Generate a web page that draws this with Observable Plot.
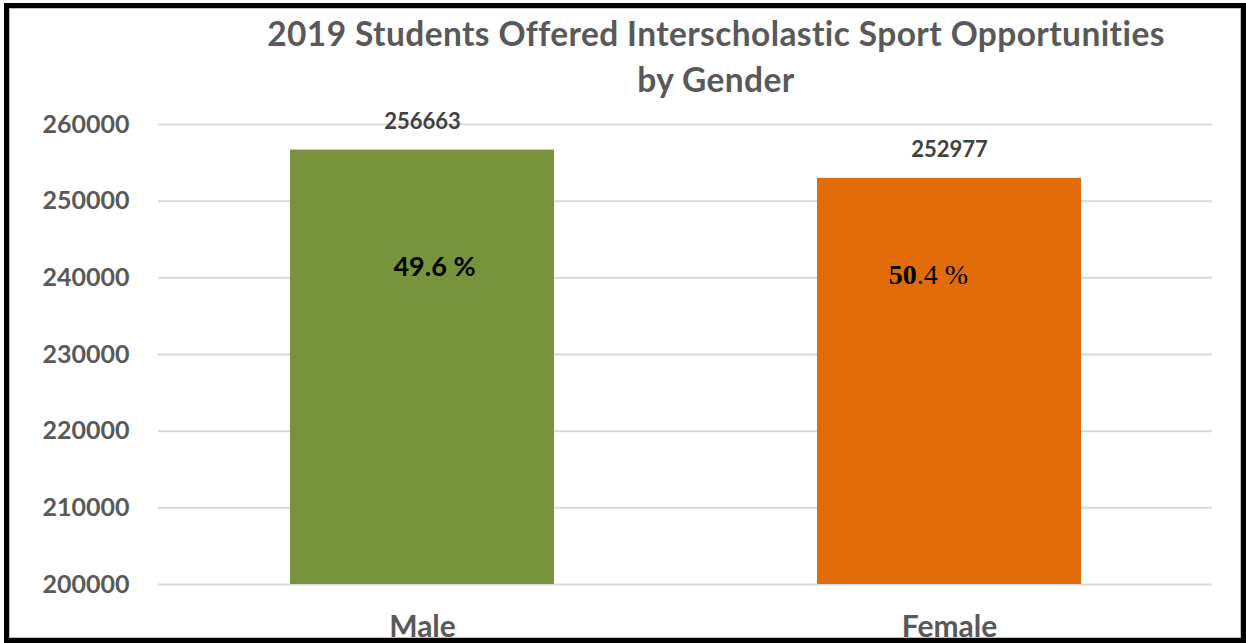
<!DOCTYPE html>
<html>
<head>
<meta charset="utf-8">
<script src="https://cdn.jsdelivr.net/npm/d3@7"></script>
<script src="https://cdn.jsdelivr.net/npm/@observablehq/plot@0.6"></script>
<style>
  html, body { margin: 0; padding: 0; background: #fff; }
  #frame {
    position: absolute; left: 4px; top: 3px;
    width: 1232px; height: 630px;
    border: 5px solid #000;
    box-shadow: inset 0 0 0 1px #bfbfbf;
    background: #fff;
  }
  #title {
    box-sizing: border-box;
    height: 100px;
    padding: 2px 0 0 182px;
    text-align: center;
    font-family: Lato, sans-serif;
    font-weight: bold;
    font-size: 33.5px;
    letter-spacing: 0.4px;
    line-height: 46px;
    color: #595959;
  }
  #chart svg { display: block; }
</style>
</head>
<body>
<div id="frame">
  <div id="title">2019 Students Offered Interscholastic Sport Opportunities<br>by Gender</div>
  <div id="chart"></div>
</div>
<script>
const categories = ["Male", "Female"];
const values = [256663, 252977];
const shares = ["49.6 %", "50.4 %"];
const yTicks = [200000, 210000, 220000, 230000, 240000, 250000, 260000];

const barColors = ["#77933c", "#e36c0a"];

const data = categories.map((c, i) => ({category: c, value: values[i], share: shares[i]}));
const yMin = yTicks[0];

const chart = Plot.plot({
  width: 1232,
  height: 530,
  marginTop: 16,
  marginBottom: 54,
  marginLeft: 149,
  marginRight: 29,
  style: {fontFamily: "Lato, sans-serif", color: "#595959", background: "transparent", overflow: "visible"},
  x: {domain: categories, paddingInner: 0.5, paddingOuter: 0.25, label: null},
  y: {domain: [yTicks[0], yTicks[yTicks.length - 1]], label: null},
  color: {domain: categories, range: barColors},
  marks: [
    Plot.gridY(yTicks, {stroke: "#d9d9d9", strokeOpacity: 1, strokeWidth: 2}),
    Plot.axisY(yTicks, {tickSize: 0, tickPadding: 29, tickFormat: d => String(d),
      fontSize: 25, fontWeight: "bold", fill: "#595959", label: null}),
    Plot.axisX({tickSize: 0, tickPadding: 31, fontSize: 30, fontWeight: "bold", fill: "#595959", label: null}),
    Plot.barY(data, {x: "category", y1: () => yMin, y2: "value", fill: "category"}),
    Plot.text(data, {x: "category", y: "value", text: d => String(d.value), dy: -28,
      fontSize: 22, fontWeight: "bold", fill: "#404040", fontFamily: "Lato, sans-serif"}),
    Plot.text(data.filter(d => d.category === "Male"), {x: "category", text: "share", frameAnchor: "top",
      lineAnchor: "middle", dy: 143, dx: 12, fontSize: 27, fontWeight: "bold", fill: "#000", fontFamily: "Lato, sans-serif"}),
    Plot.text(data.filter(d => d.category === "Female"), {x: "category", text: "share", frameAnchor: "top",
      lineAnchor: "middle", dy: 151, dx: -21, fontSize: 28, fill: "#000", fontFamily: "'Liberation Serif', 'Times New Roman', serif",
      className: "female-share"})
  ]
});

document.getElementById("chart").appendChild(chart);

// Bold the integer part of the female share, as in the reference
chart.querySelectorAll(".female-share text").forEach(t => {
  const s = t.textContent;
  const k = s.indexOf(".");
  if (k > 0) {
    t.textContent = "";
    const a = document.createElementNS("http://www.w3.org/2000/svg", "tspan");
    a.setAttribute("font-weight", "bold");
    a.textContent = s.slice(0, k);
    const b = document.createElementNS("http://www.w3.org/2000/svg", "tspan");
    b.textContent = s.slice(k);
    t.appendChild(a); t.appendChild(b);
  }
});
</script>
</body>
</html>
